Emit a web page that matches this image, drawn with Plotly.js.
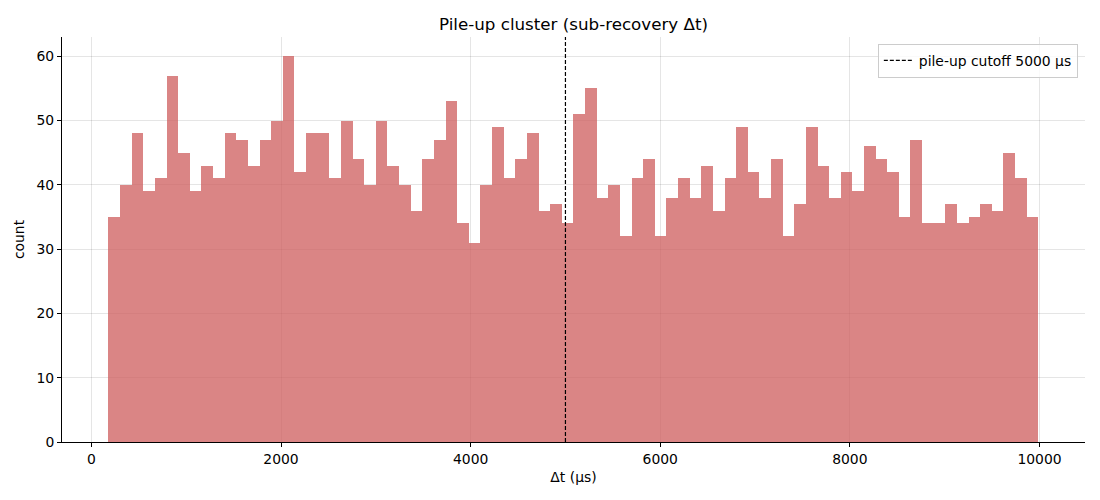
<!DOCTYPE html>
<html>
<head>
<meta charset="utf-8">
<script src="https://cdn.plot.ly/plotly-3.0.1.min.js"></script>
<style>
  body { margin: 0; background: #fff; }
  #chart { width: 1100px; height: 500px; }
</style>
</head>
<body>
<div id="chart"></div>
<script>
// histogram counts, 80 equal bins of sub-recovery Δt (µs)
var counts = [35, 40, 48, 39, 41, 57, 45, 39, 43, 41,
              48, 47, 43, 47, 50, 60, 42, 48, 48, 41,
              50, 44, 40, 50, 43, 40, 36, 44, 47, 53,
              34, 31, 40, 49, 41, 44, 48, 36, 37, 34,
              51, 55, 38, 40, 32, 41, 44, 32, 38, 41,
              38, 43, 36, 41, 49, 42, 38, 44, 32, 37,
              49, 43, 38, 42, 39, 46, 44, 42, 35, 47,
              34, 34, 37, 34, 35, 37, 36, 45, 41, 35];
var binStart = 180;     // left edge of first bin (µs)
var binWidth = 122.6;   // bin width (µs)
var cutoff = 5000;      // pile-up cutoff (µs)
var xRange = [-310, 10480];
var yRange = [0, 63];
var xTicks = [0, 2000, 4000, 6000, 8000, 10000];
var xTickText = ['0', '2000', '4000', '6000', '8000', '10000'];
var yTicks = [0, 10, 20, 30, 40, 50, 60];

var font = 'DejaVu Sans, sans-serif';

var bars = {
  type: 'bar',
  x0: binStart + binWidth / 2,
  dx: binWidth,
  y: counts,
  width: binWidth,
  marker: { color: '#cd5c5c', opacity: 0.75, line: { width: 0 } },
  showlegend: false,
  hoverinfo: 'x+y'
};

// vertical cutoff line, full height of the axes
var cut = {
  type: 'scatter',
  mode: 'lines',
  x: [cutoff, cutoff],
  y: yRange,
  name: 'pile-up cutoff ' + cutoff + ' µs',
  line: { color: '#000', width: 1.2, dash: '4px,2px' }
};

var layout = {
  width: 1100,
  height: 500,
  margin: { l: 62, r: 15, t: 37, b: 58 },
  paper_bgcolor: '#fff',
  plot_bgcolor: '#fff',
  bargap: 0,
  font: { family: font, size: 13.9, color: '#000' },
  title: {
    text: 'Pile-up cluster (sub-recovery Δt)', font: { size: 16.7 },
    xref: 'paper', x: 0.5, xanchor: 'center', y: 0.952, yanchor: 'middle'
  },
  xaxis: {
    title: { text: 'Δt (µs)', font: { size: 13.9 }, standoff: 6 },
    range: xRange,
    tickvals: xTicks,
    ticktext: xTickText,
    ticks: 'outside', ticklen: 4, tickcolor: '#000',
    showline: true, linecolor: '#000', linewidth: 1,
    showgrid: true, gridcolor: 'rgba(0,0,0,0.1)', gridwidth: 1,
    zeroline: false, mirror: false
  },
  yaxis: {
    title: { text: 'count', font: { size: 13.9 }, standoff: 8 },
    range: yRange,
    tickvals: yTicks,
    ticks: 'outside', ticklen: 4, tickcolor: '#000',
    showline: true, linecolor: '#000', linewidth: 1,
    showgrid: true, gridcolor: 'rgba(0,0,0,0.1)', gridwidth: 1,
    zeroline: false, mirror: false
  },
  legend: {
    x: 0.993, xanchor: 'right',
    y: 0.983, yanchor: 'top',
    bgcolor: 'rgba(255,255,255,0.8)',
    bordercolor: '#cccccc', borderwidth: 1,
    font: { size: 13.9 },
    tracegroupgap: 0,
    itemwidth: 30
  },
  showlegend: true
};

Plotly.newPlot('chart', [bars, cut], layout, { displayModeBar: false, staticPlot: true });
</script>
</body>
</html>
